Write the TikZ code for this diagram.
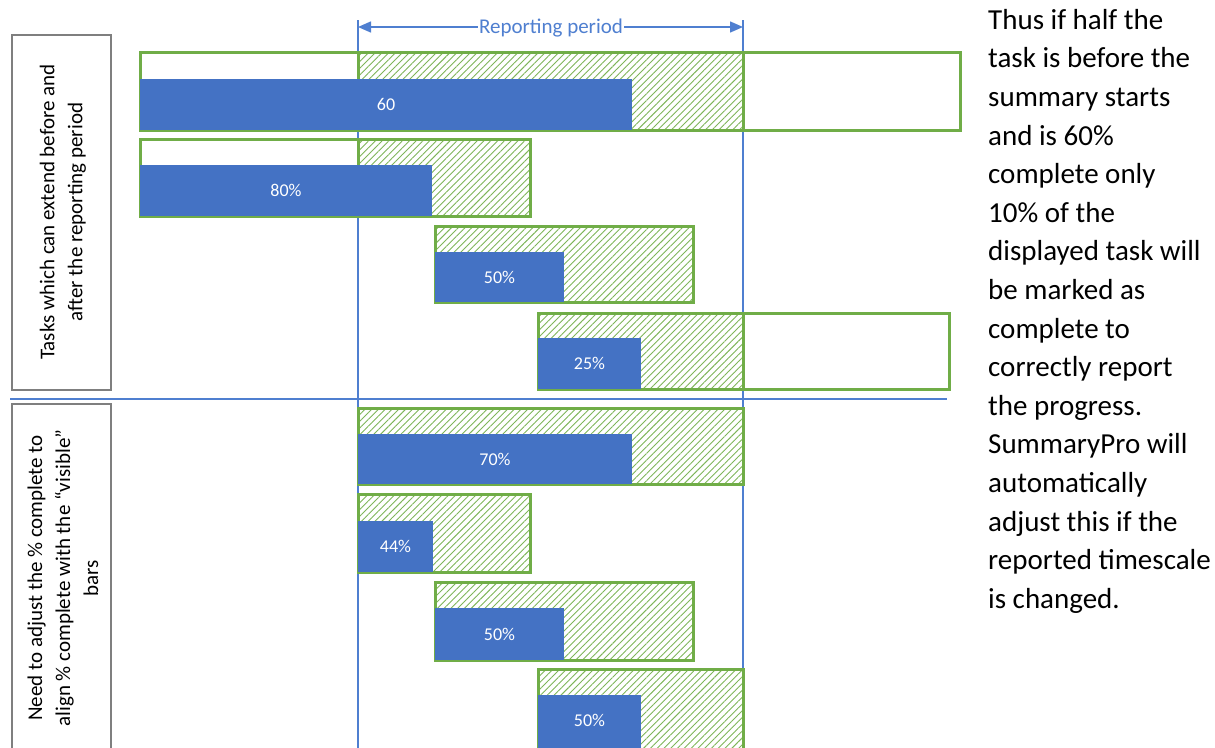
\documentclass[tikz,border=0pt]{standalone}
\usepackage{fontspec}
\setmainfont{Carlito}
\usetikzlibrary{patterns.meta,arrows.meta}
\definecolor{barblue}{HTML}{4472C4}
\definecolor{linegreen}{HTML}{70AD47}
\definecolor{periodblue}{HTML}{4F7FD0}
\definecolor{boxgray}{HTML}{7F7F7F}
\tikzset{
 outerbar/.style={draw=linegreen, line width=3pt, fill=white},
 hatchbar/.style={draw=linegreen, line width=3pt, pattern={Lines[angle=45,distance=4.8pt,line width=0.9pt]}, pattern color=linegreen!90},
 bluebar/.style={fill=barblue},
 barlabel/.style={text=white, font=\fontsize{18}{20}\selectfont, inner sep=0pt},
 sidebox/.style={draw=boxgray, line width=1.5pt},
 sidetext/.style={rotate=90, align=center, font=\fontsize{21}{28}\selectfont, inner sep=0pt},
 periodline/.style={draw=periodblue, line width=1.5pt},
}
\begin{document}
\begin{tikzpicture}[x=1pt,y=-1pt]
\useasboundingbox (0,0) rectangle (1215,747);
\clip (0,0) rectangle (1215,747);
% reporting period boundaries
\draw[periodline] (358,20) -- (358,760);
\draw[periodline] (743,20) -- (743,760);
\coordinate (pL) at (358,27);
\coordinate (pR) at (743,27);
\node[text=periodblue, fill=white, inner sep=1pt, font=\fontsize{21}{24}\selectfont] (rp) at (551,28) {Reporting period};
\draw[periodline, -{Triangle[length=13pt,width=11pt]}] (rp.west |- pL) -- (pL);
\draw[periodline, -{Triangle[length=13pt,width=11pt]}] (rp.east |- pR) -- (pR);
% side boxes
\draw[sidebox] (12,35) rectangle (111,390);
\node[sidetext] (lbl1) at (63,212) {Tasks which can extend before and\\after the reporting period};
\draw[sidebox] (12,404) rectangle (111,770);
\node[sidetext] (lbl2) at (63,578) {Need to adjust the \% complete to\\align \% complete with the “visible”\\bars};
% row 1
\draw[outerbar] (140,52) rectangle (960,130);
\draw[hatchbar] (358,52) rectangle (743,130);
\fill[bluebar] (140,79) rectangle (632,130);
\node[barlabel] (l1) at (386,104.5) {60};
% row 2
\draw[outerbar] (140,139) rectangle (530,216);
\draw[hatchbar] (358,139) rectangle (530,216);
\fill[bluebar] (140,165) rectangle (432,216);
\node[barlabel] (l2) at (286,190.5) {80\%};
% row 3
\draw[hatchbar] (435,226) rectangle (693,302);
\fill[bluebar] (435,252) rectangle (564,302);
\node[barlabel] (l3) at (499.5,277) {50\%};
% row 4
\draw[outerbar] (538,313) rectangle (949,389);
\draw[hatchbar] (538,313) rectangle (743,389);
\fill[bluebar] (538,338) rectangle (641,389);
\node[barlabel] (l4) at (589.5,363.5) {25\%};
% separator
\draw[periodline] (10,399) -- (947,399);
% row 5
\draw[hatchbar] (358,408) rectangle (743,484);
\fill[bluebar] (358,434) rectangle (632,484);
\node[barlabel] (l5) at (495,459) {70\%};
% row 6
\draw[hatchbar] (358,494) rectangle (530,572);
\fill[bluebar] (358,521) rectangle (433,572);
\node[barlabel] (l6) at (395.5,546.5) {44\%};
% row 7
\draw[hatchbar] (435,582) rectangle (693,660);
\fill[bluebar] (435,608) rectangle (564,660);
\node[barlabel] (l7) at (499.5,634) {50\%};
% row 8
\draw[hatchbar] (538,669) rectangle (743,752);
\fill[bluebar] (538,695) rectangle (641,752);
\node[barlabel] (l8) at (589.5,720) {50\%};
% note
\node[anchor=north west, align=left, inner sep=0pt, font=\fontsize{29}{38.6}\selectfont] (note) at (988,9) {Thus if half the\\task is before the\\summary starts\\and is 60\%\\complete only\\10\% of the\\displayed task will\\be marked as\\complete to\\correctly report\\the progress.\\SummaryPro will\\automatically\\adjust this if the\\reported timescale\\is changed.};
\end{tikzpicture}
\end{document}
